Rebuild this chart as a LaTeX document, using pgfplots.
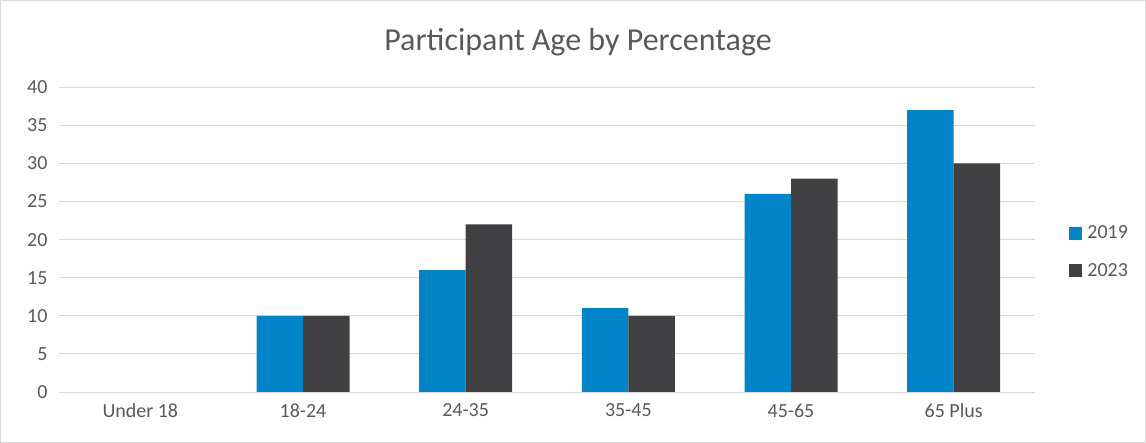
\documentclass[border=0pt]{standalone}
\usepackage{pgfplots}
\pgfplotsset{compat=1.18}
\usepackage{fontspec}
\setmainfont{Carlito}
\definecolor{cA}{HTML}{0084C8}
\definecolor{cB}{HTML}{404042}
\definecolor{gridc}{HTML}{D9D9D9}
\definecolor{txt}{HTML}{595959}
\begin{document}
\begin{tikzpicture}
\path[use as bounding box] (0bp,0bp) rectangle (1146bp,443bp);
\draw[gridc, line width=1bp] (0.5bp,0.5bp) rectangle (1145.5bp,442.5bp);
\begin{axis}[
  at={(59bp,51bp)}, anchor=south west,
  scale only axis, width=976bp, height=304.7bp,
  ybar=0pt, bar width=46.5bp,
  xmin=-0.5, xmax=5.5, ymin=0, ymax=40,
  xtick=data, xticklabels={Under 18,18-24,24-35,35-45,45-65,65 Plus},
  ytick={0,5,...,40},
  ymajorgrids, grid style={gridc, line width=1bp},
  axis line style={draw=none},
  axis x line*=bottom,
  x axis line style={gridc, line width=1bp},
  tick style={draw=none},
  /pgf/number format/assume math mode=true,
  ticklabel style={font=\fontsize{20bp}{24bp}\selectfont, text=txt},
  xticklabel style={yshift=-4bp},
  yticklabel style={xshift=-8bp},
  legend style={at={(1.032,0.46)}, anchor=west, draw=none, fill=none,
    font=\fontsize{20bp}{24bp}\selectfont, text=txt, row sep=19bp,
    legend cell align=left},
  legend image code/.code={\fill[#1] (0bp,-6.5bp) rectangle (13bp,6.5bp); \path (16bp,0bp);},
]
\addplot[fill=cA, draw=none] coordinates {(0,0) (1,10) (2,16) (3,11) (4,26) (5,37)};
\addplot[fill=cB, draw=none] coordinates {(0,0) (1,10) (2,22) (3,10) (4,28) (5,30)};
\legend{2019,2023}
\end{axis}
\node[text=txt, font=\fontsize{32bp}{36bp}\selectfont] at (578bp,401bp) {Participant Age by Percentage};
\end{tikzpicture}
\end{document}
